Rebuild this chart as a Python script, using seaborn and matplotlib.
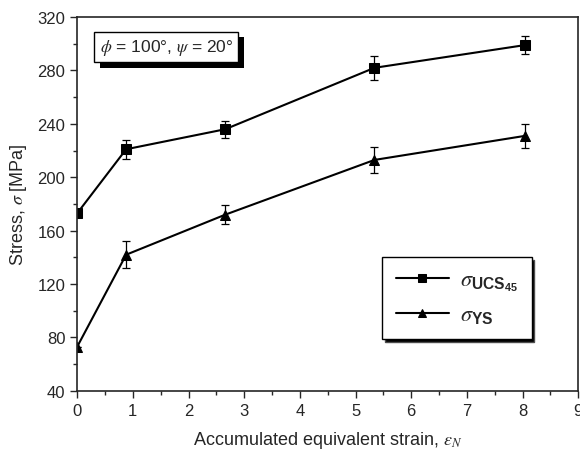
import pandas as pd
import matplotlib.pyplot as plt
import matplotlib.patheffects as pe
from matplotlib.ticker import MultipleLocator
import seaborn as sns

# Data
strain = [0.0, 0.88, 2.66, 5.34, 8.04]
ucs45 = [173, 221, 236, 282, 299]
ucs45_err = [0, 7, 6.5, 9, 6.5]
ys = [73, 142, 172, 213, 231]
ys_err = [0, 10, 7, 10, 9]

sns.set_style("ticks")
plt.rcParams["font.family"] = ["Liberation Sans", "DejaVu Sans"]
plt.rcParams["mathtext.fontset"] = "custom"
plt.rcParams["mathtext.rm"] = "Liberation Sans"
plt.rcParams["mathtext.bf"] = "Liberation Sans:bold"
plt.rcParams["mathtext.it"] = "STIXGeneral:italic"

lab_ucs = r"$\sigma_{\mathbf{UCS}_{\mathbf{45}}}$"
lab_ys = r"$\sigma_{\mathbf{YS}}$"
df = pd.DataFrame({
    "strain": strain * 2,
    "stress": ucs45 + ys,
    "series": [lab_ucs] * len(strain) + [lab_ys] * len(strain),
})

fig = plt.figure(figsize=(5.8, 4.52), dpi=100)
ax = fig.add_axes([0.133, 0.133, 0.864, 0.827])

sns.lineplot(data=df, x="strain", y="stress", hue="series", style="series",
             markers=["s", "^"], dashes=False, palette=["black", "black"],
             markersize=6.5, linewidth=1.5, markeredgecolor="black", ax=ax)

ax.errorbar(strain, ucs45, yerr=ucs45_err, fmt="none", ecolor="black",
            elinewidth=0.9, capsize=3, capthick=0.9)
ax.errorbar(strain, ys, yerr=ys_err, fmt="none", ecolor="black",
            elinewidth=0.9, capsize=3, capthick=0.9)

ax.set_xlim(0, 9)
ax.set_ylim(40, 320)
ax.xaxis.set_major_locator(MultipleLocator(1))
ax.xaxis.set_minor_locator(MultipleLocator(0.5))
ax.yaxis.set_major_locator(MultipleLocator(40))
ax.yaxis.set_minor_locator(MultipleLocator(20))
ax.tick_params(which="major", length=5, width=1, labelsize=12)
ax.tick_params(which="minor", length=3, width=1)
for s in ax.spines.values():
    s.set_linewidth(1.2)

ax.set_xlabel(r"Accumulated equivalent strain, $\varepsilon_N$", fontsize=13, labelpad=8)
ax.set_ylabel(r"Stress, $\sigma$ [MPa]", fontsize=13, labelpad=6)

txt = ax.text(0.045, 0.92, r"$\phi$ = 100°, $\psi$ = 20°", transform=ax.transAxes,
              fontsize=12.5, va="center", ha="left",
              bbox=dict(boxstyle="square,pad=0.3", facecolor="white", edgecolor="black", linewidth=1))
txt.get_bbox_patch().set_path_effects([
    pe.SimplePatchShadow(offset=(4, -4), shadow_rgbFace="black", alpha=1), pe.Normal()])

leg = ax.legend(loc="center", bbox_to_anchor=(0.758, 0.249), fontsize=16,
                frameon=True, fancybox=False, edgecolor="black", framealpha=1,
                shadow={"facecolor": "black", "alpha": 1}, handlelength=2.4,
                markerscale=0.8, borderpad=0.6, labelspacing=0.5, handletextpad=0.5)
leg.get_frame().set_linewidth(1)

fig.savefig("out.png", dpi=100)
